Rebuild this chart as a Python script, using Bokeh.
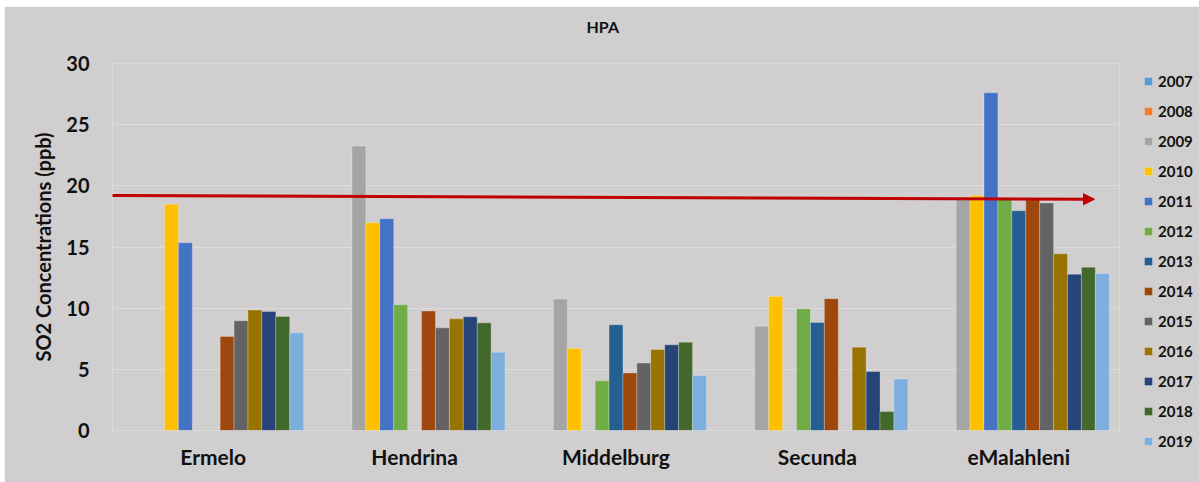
import math
from bokeh.plotting import figure
from bokeh.models import (ColumnDataSource, FactorRange, FixedTicker, Arrow,
                          NormalHead, Range1d, Title)
from bokeh.transform import dodge
from bokeh.embed import file_html
from bokeh.resources import INLINE

# ---------------- data ----------------
cities = ["Ermelo", "Hendrina", "Middelburg", "Secunda", "eMalahleni"]
years = ["2007", "2008", "2009", "2010", "2011", "2012", "2013",
         "2014", "2015", "2016", "2017", "2018", "2019"]
colors = ["#5B9BD5", "#ED7D31", "#A5A5A5", "#FFC000", "#4472C4", "#70AD47", "#255E91",
          "#9E480E", "#636363", "#997300", "#264478", "#43682B", "#7CAFDD"]

ermelo     = [None, None, None, 18.5, 15.35, None, None, 7.69, 8.97, 9.84, 9.73, 9.32, 7.99]
hendrina   = [None, None, 23.25, 16.98, 17.31, 10.28, None, 9.76, 8.39, 9.13, 9.29, 8.80, 6.40]
middelburg = [None, None, 10.74, 6.70, None, 4.06, 8.64, 4.71, 5.51, 6.62, 7.00, 7.22, 4.50]
secunda    = [None, None, 8.53, 10.96, None, 9.95, 8.83, 10.77, None, 6.81, 4.82, 1.55, 4.22]
emalahleni = [None, None, 18.9, 19.2, 27.6, 18.9, 17.96, 19.0, 18.6, 14.45, 12.78, 13.35, 12.84]
city_values = [ermelo, hendrina, middelburg, secunda, emalahleni]

y_ticks = [0, 5, 10, 15, 20, 25, 30]
title_text = "HPA"
y_label = "SO2 Concentrations (ppb)"
# guideline (red arrow) values: start/end level
arrow_y = [19.21, 18.9]

FONT = "Lato"
BG = "#D0CECF"
INK = "#111111"

p = figure(frame_width=1007, frame_height=367, output_backend="svg", toolbar_location=None,
           x_range=FactorRange(factors=cities, range_padding=0),
           y_range=Range1d(0, 30),
           min_border_left=108, min_border_right=80, min_border_top=57,
           min_border_bottom=52, margin=(6, 0, 0, 4),
           background_fill_color=BG, border_fill_color=BG, outline_line_color=None)

# title
p.title.text = title_text
p.title.align = "left"
p.title.offset = 474
p.title.vertical_align = "bottom"
p.title.text_font = FONT
p.title.text_font_style = "bold"
p.title.text_font_size = "16px"
p.title.text_color = INK
p.title.standoff = 0
# blank spacer title that pushes the real title upward
p.add_layout(Title(text=" ", text_font_size="16px", standoff=9), "above")

bar_w = 0.0691
for i, yr in enumerate(years):
    tops = [cv[i] if cv[i] is not None else math.nan for cv in city_values]
    src = ColumnDataSource(dict(city=cities, top=tops))
    p.vbar(x=dodge("city", (i - 6) * bar_w, range=p.x_range), top="top", width=bar_w,
           source=src, fill_color=colors[i], line_color="white", line_alpha=0.25,
           line_width=1, legend_label=yr)

# axes
p.yaxis.ticker = FixedTicker(ticks=y_ticks)
p.yaxis.axis_line_color = None
p.yaxis.major_tick_line_color = None
p.yaxis.minor_tick_line_color = None
p.yaxis.major_tick_out = 0
p.yaxis.minor_tick_out = 0
p.yaxis.major_label_standoff = 23
p.yaxis.major_label_text_font = FONT
p.yaxis.major_label_text_font_style = "bold"
p.yaxis.major_label_text_font_size = "20px"
p.yaxis.major_label_text_color = INK
p.yaxis.axis_label = y_label
p.yaxis.axis_label_text_font = FONT
p.yaxis.axis_label_text_font_style = "bold"
p.yaxis.axis_label_text_font_size = "20px"
p.yaxis.axis_label_text_color = INK
p.yaxis.axis_label_standoff = 8

p.xaxis.axis_line_color = None
p.xaxis.major_tick_line_color = None
p.xaxis.major_tick_out = 0
p.xaxis.major_label_standoff = 13
p.xaxis.major_label_text_font = FONT
p.xaxis.major_label_text_font_style = "bold"
p.xaxis.major_label_text_font_size = "21px"
p.xaxis.major_label_text_color = INK

p.xgrid.grid_line_color = None
p.ygrid.grid_line_color = "#DDDBDC"
p.ygrid.grid_line_width = 1

# red arrow
p.add_layout(Arrow(x_start=-0.06, y_start=arrow_y[0], x_end=4.876, y_end=arrow_y[1],
                   line_color="#C00000", line_width=3,
                   end=NormalHead(size=11, fill_color="#C00000", line_color="#C00000")))

# legend -> right panel
lg = p.legend[0]
p.center = [r for r in p.center if r is not lg]
p.add_layout(lg, "right")
lg.location = (24, -21)
lg.background_fill_alpha = 0
lg.border_line_color = None
lg.padding = 0
lg.margin = 0
lg.glyph_width = 10
lg.glyph_height = 10
lg.label_height = 20
lg.spacing = 10
lg.label_standoff = 5
lg.label_text_font = FONT
lg.label_text_font_style = "bold"
lg.label_text_font_size = "15px"
lg.label_text_color = INK

open("out.html", "w").write(file_html(p, INLINE))
